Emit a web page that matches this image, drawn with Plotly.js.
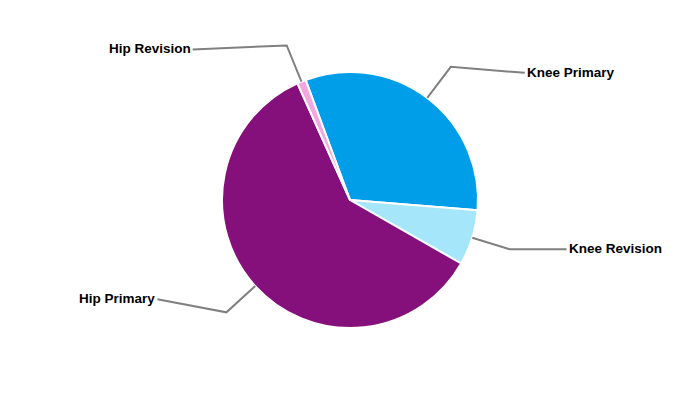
<!DOCTYPE html>
<html><head><meta charset="utf-8">
<script src="https://cdn.plot.ly/plotly-3.0.1.min.js"></script>
<style>html,body{margin:0;padding:0;background:#fff}#chart{width:700px;height:400px}</style>
</head><body><div id="chart"></div>
<script>
// ---- data ----
const categories = ['Knee Primary', 'Knee Revision', 'Hip Primary', 'Hip Revision'];
const shares = [31.9, 7.0, 60.0, 1.1];

// ---- style / layout config ----
const colors = ['#009EE9', '#A6E6FB', '#850F7B', '#F2A8DE'];
const startAngle = -20.3;           // degrees clockwise from 12 o'clock
const W = 700, H = 400;
const cx = 350, cy = 200, R = 128, elbowR = 167;
const labelOffsets = [[74, 6], [57, 0], [-69, -13], [-94, 4]];  // elbow -> label end (px)
const textGap = 1;

const domX = [(cx - R) / W, (cx + R) / W];
const domY = [1 - (cy + R) / H, 1 - (cy - R) / H];

const total = shares.reduce((a, b) => a + b, 0);
const shapes = [];
const annotations = [];
let acc = 0;
function pt(r, deg) {
  const a = deg * Math.PI / 180;
  return [cx + r * Math.sin(a), cy - r * Math.cos(a)];
}
const px = (x) => x / W, py = (y) => 1 - y / H;
shares.forEach((v, i) => {
  const mid = startAngle + (acc + v / 2) / total * 360;
  acc += v;
  const p0 = pt(R, mid), p1 = pt(elbowR, mid);
  const p2 = [p1[0] + labelOffsets[i][0], p1[1] + labelOffsets[i][1]];
  shapes.push({
    type: 'path', xref: 'paper', yref: 'paper',
    path: `M ${px(p0[0])} ${py(p0[1])} L ${px(p1[0])} ${py(p1[1])} L ${px(p2[0])} ${py(p2[1])}`,
    line: {color: '#808080', width: 2}
  });
  const right = labelOffsets[i][0] > 0;
  annotations.push({
    xref: 'paper', yref: 'paper', showarrow: false,
    x: px(p2[0] + (right ? textGap : -textGap)), y: py(p2[1] - 0.5),
    xanchor: right ? 'left' : 'right', yanchor: 'middle',
    borderpad: 0,
    text: categories[i],
    font: {family: 'Liberation Sans, Arial, sans-serif', size: 13.5, color: '#000', weight: 'bold'}
  });
});

Plotly.newPlot('chart', [{
  type: 'pie',
  labels: categories,
  values: shares,
  sort: false,
  direction: 'clockwise',
  rotation: startAngle,
  marker: {colors: colors, line: {color: '#ffffff', width: 2}},
  textinfo: 'none',
  textposition: 'none',
  domain: {x: domX, y: domY},
  showlegend: false
}], {
  width: W, height: H,
  margin: {l: 0, r: 0, t: 0, b: 0},
  paper_bgcolor: '#ffffff',
  showlegend: false,
  shapes: shapes,
  annotations: annotations
}, {displayModeBar: false, staticPlot: false});
</script>
</body></html>
